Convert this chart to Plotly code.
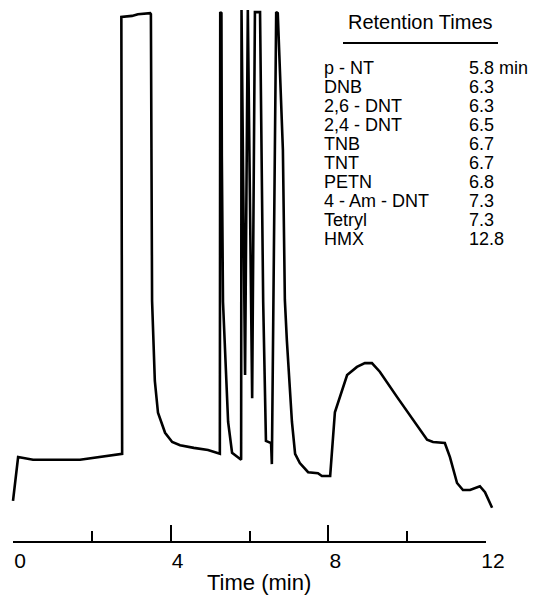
import plotly.graph_objects as go

# Chromatogram trace (time in min, detector signal in arbitrary units)
time_min = [
    0.00, 0.13, 0.51, 1.70, 2.77,
    2.75, 3.02, 3.17, 3.48, 3.50,
    3.53, 3.60, 3.68, 3.86, 4.04, 4.24, 4.59, 4.95, 5.25,
    5.26, 5.29, 5.30, 5.33, 5.43, 5.46, 5.56, 5.79,
    5.80, 5.89, 5.96, 6.07, 6.14, 6.27,
    6.35, 6.41, 6.42, 6.55, 6.57,
    6.68, 6.72, 6.85, 6.90, 6.95, 7.08, 7.16, 7.28, 7.49, 7.74, 7.84, 8.05,
    8.17, 8.48, 8.73, 8.93, 9.11, 9.31, 9.75, 10.15, 10.51, 10.66, 10.96,
    11.09, 11.27, 11.42, 11.60, 11.85, 11.98, 12.16,
]
signal = [
    8.0, 16.1, 15.6, 15.6, 16.7,
    97.6, 97.8, 98.1, 98.3, 98.1,
    45.0, 30.2, 24.3, 20.6, 18.9, 18.3, 17.8, 17.4, 16.7,
    98.5, 98.3, 72.0, 44.8, 29.6, 22.6, 16.9, 15.6,
    98.9, 31.3, 98.9, 27.0, 98.5, 98.5,
    44.8, 22.6, 19.1, 18.7, 14.8,
    98.5, 98.3, 73.0, 45.2, 37.8, 22.6, 16.7, 15.0, 13.3, 13.1, 12.6, 12.6,
    24.4, 31.3, 32.8, 33.5, 33.5, 31.9, 27.2, 23.0, 19.3, 18.9, 18.7,
    16.1, 11.3, 10.0, 10.0, 10.7, 9.6, 6.7,
]

# Axis ticks
major_ticks = [0, 4, 8, 12]
major_labels = ["0", "4", "8", "12"]
minor_ticks = [2, 6, 10]

# Retention-time table
compounds = ["p - NT", "DNB", "2,6 - DNT", "2,4 - DNT", "TNB", "TNT", "PETN",
             "4 - Am - DNT", "Tetryl", "HMX"]
ret_times = ["5.8 min", "6.3", "6.3", "6.5", "6.7", "6.7", "6.8", "7.3", "7.3", "12.8"]

FONT = "Liberation Sans, Arial, Helvetica, sans-serif"
W, H = 544, 600


def px(x):
    return x / W


def py(y):
    return 1 - y / H


fig = go.Figure()
# empty trace so the time-axis subplot is drawn
fig.add_trace(go.Scatter(x=[], y=[], xaxis="x", yaxis="y", showlegend=False,
                         hoverinfo="skip"))
fig.add_trace(go.Scatter(
    x=time_min, y=signal, mode="lines",
    line=dict(color="black", width=2.6),
    xaxis="x2", yaxis="y2", showlegend=False, hoverinfo="skip",
))

annotations = [
    dict(text="Retention Times", x=px(420), y=py(22), xref="paper", yref="paper",
         showarrow=False, font=dict(family=FONT, size=20, color="black"),
         xanchor="center", yanchor="middle"),
    dict(text="Time (min)", x=px(259), y=py(582), xref="paper", yref="paper",
         showarrow=False, font=dict(family=FONT, size=22, color="black"),
         xanchor="center", yanchor="middle"),
]
row0, row_step = 68, 19
for i, (name, rt) in enumerate(zip(compounds, ret_times)):
    yy = py(row0 + i * row_step)
    annotations.append(dict(text=name, x=px(322), y=yy, xref="paper", yref="paper",
                            showarrow=False, xanchor="left", yanchor="middle",
                            font=dict(family=FONT, size=18, color="black")))
    annotations.append(dict(text=rt, x=px(467), y=yy, xref="paper", yref="paper",
                            showarrow=False, xanchor="left", yanchor="middle",
                            font=dict(family=FONT, size=18, color="black")))

fig.update_layout(
    width=W, height=H, autosize=False,
    margin=dict(l=0, r=0, t=0, b=0),
    paper_bgcolor="white", plot_bgcolor="rgba(0,0,0,0)",
    showlegend=False,
    xaxis=dict(
        domain=[px(13), px(486)], range=[0, 12], anchor="y",
        showline=True, linecolor="black", linewidth=2,
        ticks="inside", ticklen=16, tickwidth=2, tickcolor="black",
        tickvals=major_ticks, ticktext=major_labels,
        tickfont=dict(family=FONT, size=21, color="black"),
        ticklabelshift=7, automargin=False,
        showgrid=False, zeroline=False,
        minor=dict(tickvals=minor_ticks, ticks="inside", ticklen=10,
                   tickwidth=2, tickcolor="black", showgrid=False),
    ),
    yaxis=dict(domain=[py(541), 1], range=[0, 1], visible=False),
    xaxis2=dict(domain=[0, 1], range=[(0 - 13) / 39.4, (W - 13) / 39.4],
                anchor="y2", visible=False),
    yaxis2=dict(domain=[0, 1], range=[(544 - H) / 5.4, 544 / 5.4],
                anchor="x2", visible=False),
    annotations=annotations,
    shapes=[dict(type="line", xref="paper", yref="paper",
                 x0=px(343), x1=px(498), y0=py(43), y1=py(43),
                 line=dict(color="black", width=2))],
)

fig.write_html("out.html", config={"responsive": False, "displayModeBar": False})
